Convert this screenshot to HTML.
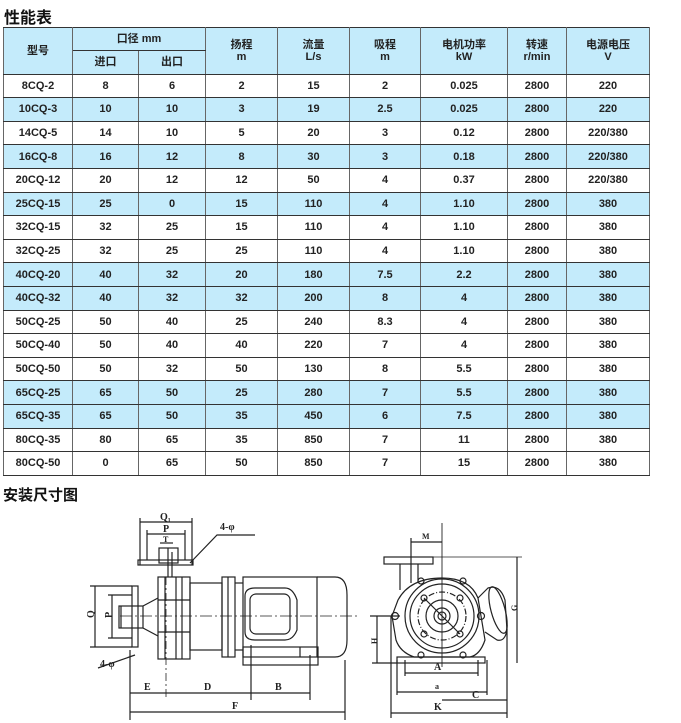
<!DOCTYPE html>
<html><head><meta charset="utf-8"><style>
body{margin:0;background:#fff;width:681px;height:723px;overflow:hidden;position:relative;font-family:"Liberation Sans","Noto Sans CJK SC",sans-serif}
.t{position:absolute;font-size:16px;color:#111;font-weight:bold}
table{position:absolute;left:3px;top:27px;border-collapse:collapse;table-layout:fixed}
td{border:1px solid #333;border-left-color:#666;border-right-color:#666;text-align:center;font-size:11px;font-weight:bold;color:#222;padding:0;height:22.6px;line-height:12px}
.h td{background:#c4ebfb}
tr.b td{background:#c4ebfb}
</style></head><body>
<div class="t" style="left:4px;top:4px">性能表</div>
<table>
<colgroup><col style="width:69px"><col style="width:66px"><col style="width:67px"><col style="width:72px"><col style="width:72px"><col style="width:71px"><col style="width:87px"><col style="width:59px"><col style="width:83px"></colgroup>
<tr class="h"><td rowspan="2">型号</td><td colspan="2" style="height:22px">口径 mm</td><td rowspan="2">扬程<br>m</td><td rowspan="2">流量<br>L/s</td><td rowspan="2">吸程<br>m</td><td rowspan="2">电机功率<br>kW</td><td rowspan="2">转速<br>r/min</td><td rowspan="2">电源电压<br>V</td></tr>
<tr class="h"><td style="height:22px">进口</td><td>出口</td></tr>
<tr><td>8CQ-2</td><td>8</td><td>6</td><td>2</td><td>15</td><td>2</td><td>0.025</td><td>2800</td><td>220</td></tr>
<tr class="b"><td>10CQ-3</td><td>10</td><td>10</td><td>3</td><td>19</td><td>2.5</td><td>0.025</td><td>2800</td><td>220</td></tr>
<tr><td>14CQ-5</td><td>14</td><td>10</td><td>5</td><td>20</td><td>3</td><td>0.12</td><td>2800</td><td>220/380</td></tr>
<tr class="b"><td>16CQ-8</td><td>16</td><td>12</td><td>8</td><td>30</td><td>3</td><td>0.18</td><td>2800</td><td>220/380</td></tr>
<tr><td>20CQ-12</td><td>20</td><td>12</td><td>12</td><td>50</td><td>4</td><td>0.37</td><td>2800</td><td>220/380</td></tr>
<tr class="b"><td>25CQ-15</td><td>25</td><td>0</td><td>15</td><td>110</td><td>4</td><td>1.10</td><td>2800</td><td>380</td></tr>
<tr><td>32CQ-15</td><td>32</td><td>25</td><td>15</td><td>110</td><td>4</td><td>1.10</td><td>2800</td><td>380</td></tr>
<tr><td>32CQ-25</td><td>32</td><td>25</td><td>25</td><td>110</td><td>4</td><td>1.10</td><td>2800</td><td>380</td></tr>
<tr class="b"><td>40CQ-20</td><td>40</td><td>32</td><td>20</td><td>180</td><td>7.5</td><td>2.2</td><td>2800</td><td>380</td></tr>
<tr class="b"><td>40CQ-32</td><td>40</td><td>32</td><td>32</td><td>200</td><td>8</td><td>4</td><td>2800</td><td>380</td></tr>
<tr><td>50CQ-25</td><td>50</td><td>40</td><td>25</td><td>240</td><td>8.3</td><td>4</td><td>2800</td><td>380</td></tr>
<tr><td>50CQ-40</td><td>50</td><td>40</td><td>40</td><td>220</td><td>7</td><td>4</td><td>2800</td><td>380</td></tr>
<tr><td>50CQ-50</td><td>50</td><td>32</td><td>50</td><td>130</td><td>8</td><td>5.5</td><td>2800</td><td>380</td></tr>
<tr class="b"><td>65CQ-25</td><td>65</td><td>50</td><td>25</td><td>280</td><td>7</td><td>5.5</td><td>2800</td><td>380</td></tr>
<tr class="b"><td>65CQ-35</td><td>65</td><td>50</td><td>35</td><td>450</td><td>6</td><td>7.5</td><td>2800</td><td>380</td></tr>
<tr><td>80CQ-35</td><td>80</td><td>65</td><td>35</td><td>850</td><td>7</td><td>11</td><td>2800</td><td>380</td></tr>
<tr><td>80CQ-50</td><td>0</td><td>65</td><td>50</td><td>850</td><td>7</td><td>15</td><td>2800</td><td>380</td></tr>
</table>
<div class="t" style="left:3px;top:484px;font-size:15px">安装尺寸图</div>
<svg width="681" height="723" style="position:absolute;left:0;top:0" fill="none" stroke="#222" stroke-width="1.2" font-family="Liberation Serif,serif" font-size="10" font-weight="bold">
<g>
<line x1="140" y1="522" x2="192" y2="522"/><line x1="140" y1="518" x2="140" y2="565"/><line x1="192" y1="518" x2="192" y2="565"/>
<line x1="147" y1="534" x2="185" y2="534"/><line x1="147" y1="530" x2="147" y2="560"/><line x1="185" y1="530" x2="185" y2="560"/>
<line x1="160" y1="543" x2="173" y2="543"/>
<text x="160" y="520" fill="#222" stroke="none">Q₁</text><text x="163" y="532" fill="#222" stroke="none">P</text><text x="163" y="542" fill="#222" stroke="none" font-size="8">T</text>
<rect x="159" y="548" width="19" height="15"/><rect x="138" y="560" width="55" height="5"/>
<line x1="168" y1="548" x2="168" y2="577"/><line x1="172" y1="552" x2="172" y2="577"/>
<polyline points="190,563 217,535 255,535"/><text x="220" y="530" fill="#222" stroke="none">4-φ</text>
<rect x="158" y="577" width="32" height="82"/>
<line x1="165" y1="577" x2="165" y2="659"/><line x1="176" y1="577" x2="176" y2="659"/><line x1="182" y1="577" x2="182" y2="659"/>
<line x1="158" y1="600" x2="190" y2="600"/><line x1="158" y1="632" x2="190" y2="632"/>
<rect x="190" y="583" width="32" height="67"/>
<rect x="222" y="577" width="13" height="80"/><line x1="228" y1="577" x2="228" y2="657"/>
<line x1="235" y1="583" x2="243" y2="583"/><line x1="235" y1="650" x2="243" y2="650"/>
<rect x="243" y="577" width="74" height="80"/>
<path d="M317,577 H335 Q347,577 347,595 V640 Q347,657 335,657 H317"/>
<path d="M245,596 Q245,588 255,588 H285 Q293,588 297,600 L297,630 Q293,640 285,640 H255 Q245,640 245,632 Z"/>
<rect x="250" y="594" width="40" height="40" rx="6"/>
<rect x="243" y="647" width="75" height="18"/><line x1="300" y1="647" x2="300" y2="657"/>
<line x1="120" y1="616" x2="360" y2="616" stroke-dasharray="12,3,2,3" stroke-width="0.8"/>
<line x1="166" y1="577" x2="166" y2="700" stroke-dasharray="8,3,2,3" stroke-width="0.8"/>
<rect x="132" y="586" width="6" height="61"/>
<rect x="119" y="606" width="24" height="22"/>
<path d="M143,606 L158,598 M143,628 L158,636"/>
<line x1="95" y1="586" x2="95" y2="647"/><line x1="90" y1="586" x2="132" y2="586"/><line x1="90" y1="647" x2="132" y2="647"/>
<line x1="112" y1="595" x2="112" y2="638"/><line x1="108" y1="595" x2="132" y2="595"/><line x1="108" y1="638" x2="132" y2="638"/>
<line x1="121" y1="606" x2="121" y2="628"/>
<text x="88" y="620" fill="#222" stroke="none" transform="rotate(-90 90 616)">Q</text>
<text x="106" y="620" fill="#222" stroke="none" transform="rotate(-90 108 616)">P</text>
<polyline points="98,668 135,655"/><text x="100" y="667" fill="#222" stroke="none">4-φ</text>
<line x1="130" y1="693" x2="310" y2="693"/><line x1="130" y1="712" x2="345" y2="712"/>
<line x1="130" y1="650" x2="130" y2="720"/><line x1="251" y1="645" x2="251" y2="700"/><line x1="310" y1="655" x2="310" y2="700"/><line x1="345" y1="660" x2="345" y2="720"/>
<text x="144" y="690" fill="#222" stroke="none">E</text><text x="204" y="690" fill="#222" stroke="none">D</text><text x="275" y="690" fill="#222" stroke="none">B</text><text x="232" y="709" fill="#222" stroke="none">F</text>
</g>
<g>
<line x1="442" y1="523" x2="442" y2="667" stroke-width="0.9"/>
<line x1="411" y1="542" x2="442" y2="542"/><line x1="411" y1="538" x2="411" y2="583"/>
<text x="422" y="539" fill="#222" stroke="none" font-size="8">M</text>
<rect x="384" y="557" width="49" height="7"/><line x1="433" y1="557" x2="522" y2="557" stroke-width="0.8"/>
<line x1="400" y1="564" x2="400" y2="590"/><line x1="418" y1="564" x2="418" y2="583"/>
<line x1="517" y1="557" x2="517" y2="663"/><text x="510" y="612" fill="#222" stroke="none" font-size="8" transform="rotate(-90 513 608)">G</text>
<path d="M398,600 Q410,578 442,578 Q470,578 478,598 L485,640 Q480,655 470,657 H414 Q400,652 396,640 L392,616 Z"/>
<circle cx="442" cy="616" r="37"/><circle cx="442" cy="616" r="32"/><circle cx="442" cy="616" r="24" stroke-dasharray="6,2,1,2"/>
<circle cx="442" cy="616" r="16"/><circle cx="442" cy="616" r="8"/><circle cx="442" cy="616" r="4"/>
<circle cx="424" cy="598" r="3"/><circle cx="460" cy="598" r="3"/><circle cx="424" cy="634" r="3"/><circle cx="460" cy="634" r="3"/>
<line x1="424" y1="598" x2="460" y2="634"/>
<circle cx="395" cy="616" r="3.5"/><circle cx="481" cy="616" r="3.5"/><circle cx="421" cy="581" r="3"/><circle cx="463" cy="581" r="3"/><circle cx="421" cy="655" r="3"/><circle cx="463" cy="655" r="3"/>
<path d="M478,598 L488,588 Q500,584 505,600 L507,630 Q505,642 497,640 L485,632"/>
<ellipse cx="498" cy="610" rx="7" ry="24" transform="rotate(-15 498 610)"/>
<rect x="397" y="657" width="88" height="6"/>
<line x1="370" y1="616" x2="400" y2="616"/>
<line x1="377" y1="616" x2="377" y2="663"/><line x1="372" y1="663" x2="397" y2="663"/>
<text x="368" y="645" fill="#222" stroke="none" font-size="8" transform="rotate(-90 372 640)">H</text>
<line x1="405" y1="673" x2="478" y2="673"/><line x1="405" y1="660" x2="405" y2="676"/><line x1="478" y1="660" x2="478" y2="676"/>
<text x="434" y="670" fill="#222" stroke="none">A</text>
<line x1="397" y1="692" x2="487" y2="692"/><line x1="397" y1="660" x2="397" y2="695"/><line x1="487" y1="660" x2="487" y2="695"/>
<text x="435" y="689" fill="#222" stroke="none" font-size="8">a</text>
<line x1="442" y1="700" x2="507" y2="700"/><text x="472" y="698" fill="#222" stroke="none">C</text>
<line x1="391" y1="713" x2="507" y2="713"/><line x1="391" y1="616" x2="391" y2="718"/><line x1="507" y1="625" x2="507" y2="718"/>
<text x="434" y="710" fill="#222" stroke="none">K</text>
</g>
</svg>
</body></html>
